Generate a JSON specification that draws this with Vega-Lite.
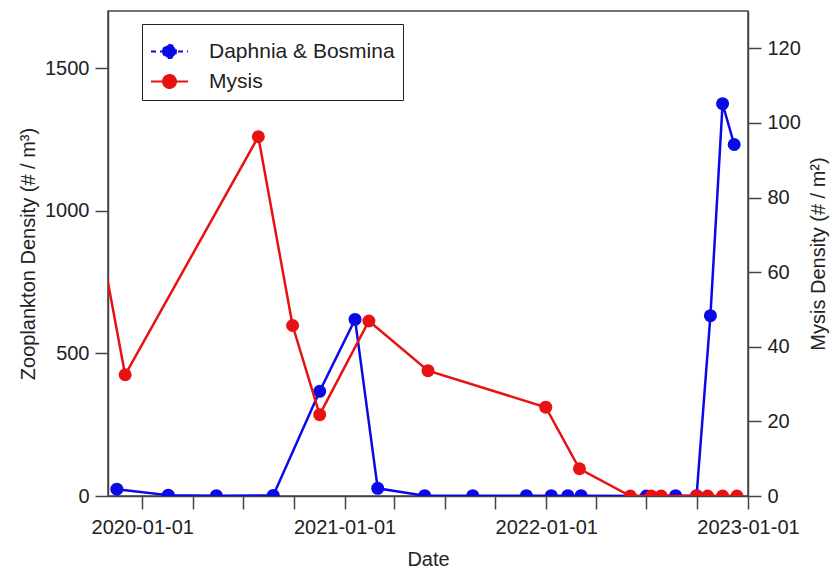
{
  "$schema": "https://vega.github.io/schema/vega-lite/v6.json",
  "autosize": "none",
  "padding": {"left": 108, "top": 11, "right": 87, "bottom": 85},
  "width": 640,
  "height": 485,
  "background": "white",
  "config": {
    "view": {"stroke": "#444", "strokeWidth": 1.5},
    "font": "Liberation Sans",
    "axis": {
      "grid": false,
      "domainColor": "#444",
      "domainWidth": 1.5,
      "tickColor": "#444",
      "tickWidth": 1.5,
      "tickSize": 13,
      "labelFont": "Liberation Sans",
      "labelFontSize": 20,
      "labelColor": "#222",
      "titleFont": "Liberation Sans",
      "titleFontSize": 20,
      "titleFontWeight": "normal",
      "titleColor": "#222"
    }
  },
  "data": {
    "values": [
      {"date": "2019-11-16", "series": "Daphnia & Bosmina", "value": 24},
      {"date": "2020-02-17", "series": "Daphnia & Bosmina", "value": 3},
      {"date": "2020-05-14", "series": "Daphnia & Bosmina", "value": 1},
      {"date": "2020-08-25", "series": "Daphnia & Bosmina", "value": 2},
      {"date": "2020-11-17", "series": "Daphnia & Bosmina", "value": 367},
      {"date": "2021-01-20", "series": "Daphnia & Bosmina", "value": 619},
      {"date": "2021-03-02", "series": "Daphnia & Bosmina", "value": 27},
      {"date": "2021-05-26", "series": "Daphnia & Bosmina", "value": 1},
      {"date": "2021-08-21", "series": "Daphnia & Bosmina", "value": 1},
      {"date": "2021-11-26", "series": "Daphnia & Bosmina", "value": 1},
      {"date": "2022-01-10", "series": "Daphnia & Bosmina", "value": 1},
      {"date": "2022-02-09", "series": "Daphnia & Bosmina", "value": 1},
      {"date": "2022-03-05", "series": "Daphnia & Bosmina", "value": 1},
      {"date": "2022-07-01", "series": "Daphnia & Bosmina", "value": 0},
      {"date": "2022-08-23", "series": "Daphnia & Bosmina", "value": 1},
      {"date": "2022-09-30", "series": "Daphnia & Bosmina", "value": 1},
      {"date": "2022-10-25", "series": "Daphnia & Bosmina", "value": 632},
      {"date": "2022-11-16", "series": "Daphnia & Bosmina", "value": 1375},
      {"date": "2022-12-07", "series": "Daphnia & Bosmina", "value": 1232},
      {"date": "2019-10-15", "series": "Mysis", "value": 70},
      {"date": "2019-12-01", "series": "Mysis", "value": 32.5},
      {"date": "2020-07-29", "series": "Mysis", "value": 96.3},
      {"date": "2020-09-29", "series": "Mysis", "value": 45.7},
      {"date": "2020-11-17", "series": "Mysis", "value": 21.8},
      {"date": "2021-02-14", "series": "Mysis", "value": 46.9},
      {"date": "2021-06-01", "series": "Mysis", "value": 33.6},
      {"date": "2021-12-31", "series": "Mysis", "value": 23.8},
      {"date": "2022-03-02", "series": "Mysis", "value": 7.3},
      {"date": "2022-06-02", "series": "Mysis", "value": 0},
      {"date": "2022-07-10", "series": "Mysis", "value": 0},
      {"date": "2022-07-28", "series": "Mysis", "value": 0},
      {"date": "2022-09-30", "series": "Mysis", "value": 0},
      {"date": "2022-10-20", "series": "Mysis", "value": 0},
      {"date": "2022-11-16", "series": "Mysis", "value": 0},
      {"date": "2022-12-12", "series": "Mysis", "value": 0}
    ]
  },
  "encoding": {
    "x": {
      "field": "date",
      "type": "temporal",
      "title": "Date",
      "scale": {
        "type": "utc",
        "domain": [
          {"year": 2019, "month": 10, "date": 31, "utc": true},
          {"year": 2023, "month": 1, "date": 1, "utc": true}
        ]
      },
      "axis": {
        "values": [
          {"year": 2020, "month": 1, "date": 1, "utc": true},
          {"year": 2020, "month": 4, "date": 1, "utc": true},
          {"year": 2020, "month": 7, "date": 1, "utc": true},
          {"year": 2020, "month": 10, "date": 1, "utc": true},
          {"year": 2021, "month": 1, "date": 1, "utc": true},
          {"year": 2021, "month": 4, "date": 1, "utc": true},
          {"year": 2021, "month": 7, "date": 1, "utc": true},
          {"year": 2021, "month": 10, "date": 1, "utc": true},
          {"year": 2022, "month": 1, "date": 1, "utc": true},
          {"year": 2022, "month": 4, "date": 1, "utc": true},
          {"year": 2022, "month": 7, "date": 1, "utc": true},
          {"year": 2022, "month": 10, "date": 1, "utc": true},
          {"year": 2023, "month": 1, "date": 1, "utc": true}
        ],
        "labelExpr": "utcmonth(datum.value) == 0 ? utcFormat(datum.value, '%Y-%m-%d') : ''",
        "labelPadding": 8,
        "titlePadding": 12,
        "labelOverlap": false,
        "labelFlush": false
      }
    },
    "color": {
      "field": "series",
      "type": "nominal",
      "scale": {
        "domain": ["Daphnia & Bosmina", "Mysis"],
        "range": ["#0a0ae6", "#e81212"]
      },
      "legend": {
        "title": null,
        "orient": "none",
        "legendX": 34,
        "legendY": 13,
        "padding": 8,
        "rowPadding": -11,
        "strokeColor": "#222",
        "fillColor": "white",
        "labelFont": "Liberation Sans",
        "labelFontSize": 21,
        "labelColor": "#222",
        "labelLimit": 400,
        "labelOffset": 20,
        "symbolSize": 1369,
        "symbolStrokeWidth": 2,
        "symbolType": "M-1,0H1M-0.35,0A0.35,0.35,0,1,1,0.35,0A0.35,0.35,0,1,1,-0.35,0Z",
        "encode": {
          "symbols": {
            "update": {
              "fill": {"scale": "color", "field": "value"},
              "stroke": {"scale": "color", "field": "value"},
              "strokeDash": {"signal": "datum.value == 'Mysis' ? [1, 0] : [5, 4]"},
              "opacity": {"value": 1}
            }
          }
        }
      }
    }
  },
  "layer": [
    {
      "transform": [{"filter": "datum.series == 'Daphnia & Bosmina'"}],
      "encoding": {
        "y": {
          "field": "value",
          "type": "quantitative",
          "title": "Zooplankton Density (# / m³)",
          "scale": {"domain": [0, 1700], "nice": false, "zero": true},
          "axis": {
            "orient": "left",
            "values": [0, 500, 1000, 1500],
            "format": "d",
            "labelPadding": 6,
            "titlePadding": 6
          }
        }
      },
      "layer": [
        {"mark": {"type": "line", "strokeWidth": 2.5, "clip": true}},
        {"mark": {"type": "point", "filled": true, "size": 169, "opacity": 1, "clip": true}}
      ]
    },
    {
      "transform": [{"filter": "datum.series == 'Mysis'"}],
      "encoding": {
        "y": {
          "field": "value",
          "type": "quantitative",
          "title": "Mysis Density (# / m²)",
          "scale": {"domain": [0, 130], "nice": false, "zero": true},
          "axis": {
            "orient": "right",
            "values": [0, 20, 40, 60, 80, 100, 120],
            "format": "d",
            "labelPadding": 6,
            "titlePadding": 8,
            "titleAngle": 270,
            "titleBaseline": "top"
          }
        }
      },
      "layer": [
        {"mark": {"type": "line", "strokeWidth": 2.5, "clip": true}},
        {"mark": {"type": "point", "filled": true, "size": 169, "opacity": 1, "clip": true}}
      ]
    }
  ],
  "resolve": {"scale": {"y": "independent"}}
}
